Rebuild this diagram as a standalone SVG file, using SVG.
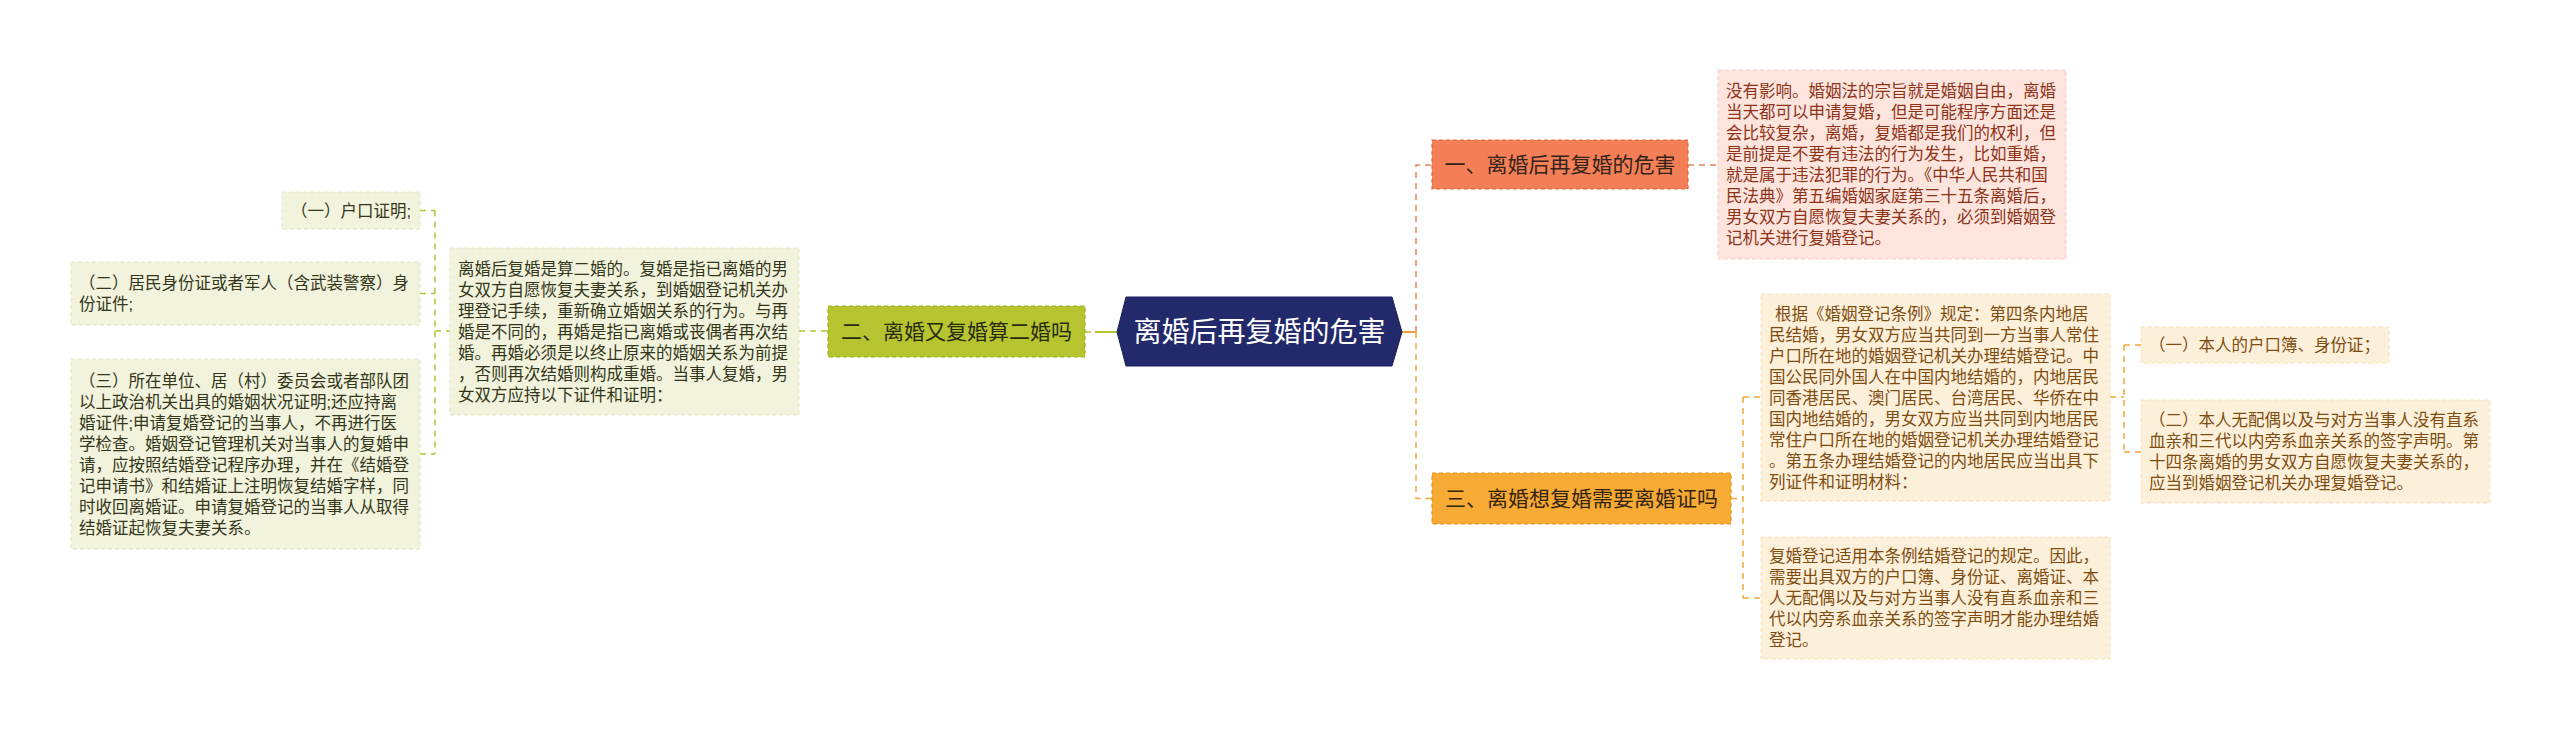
<svg xmlns="http://www.w3.org/2000/svg" width="2560" height="733" viewBox="0 0 2560 733">
<style>
text{font-family:"Liberation Sans","Noto Sans CJK SC",sans-serif;dominant-baseline:central}
.t{font-size:16.5px}
.lt{fill:#33361a}
.rt{fill:#7e4c10}
.pt{fill:#8e3218}
.b{font-size:21px;text-anchor:middle}
.boxL{fill:#f1f3dc;stroke:#e2e6bf;stroke-width:1;stroke-dasharray:4 3}
.boxR{fill:#fdf0da;stroke:#f5e0b8;stroke-width:1;stroke-dasharray:4 3}
.boxP{fill:#fde5de;stroke:#f7cfc2;stroke-width:1;stroke-dasharray:4 3}
.cl{fill:none;stroke:#b5c434;stroke-width:1.5;stroke-dasharray:6 5}
.co{fill:none;stroke:#e8805c;stroke-width:1.5;stroke-dasharray:6 5}
.cy{fill:none;stroke:#f0a83a;stroke-width:1.5;stroke-dasharray:6 5}
</style>
<g id="connectors">
<path class="cl" d="M420,210.5H435M420,293.5H435M420,454H435M435,210.5V454M435,331H450"/>
<path class="cl" d="M799,331H828"/>
<path class="cl" d="M1085,332H1095"/>
<path d="M1095,332H1117" stroke="#b5c434" stroke-width="2" fill="none"/>
<path d="M1402,332H1416" stroke="#f0a040" stroke-width="2" fill="none"/>
<path class="co" d="M1416,332V165H1432M1688,165H1718"/>
<path class="cy" d="M1416,332V498.5H1432M1731,498.5H1743M1743,397V598M1743,397H1761M1743,598H1761"/>
<path class="cy" d="M2110,397H2124M2124,345V452M2124,345H2141M2124,452H2141"/>
</g>
<g id="center">
<polygon points="1117,332 1126,297 1392,297 1402,332 1392,366 1126,366" fill="#232a6c" stroke="#1a2058" stroke-width="1"/>
<text x="1259.5" y="332" font-size="28" fill="#ffffff" text-anchor="middle">离婚后再复婚的危害</text>
</g>
<g id="branch1">
<rect x="1432" y="140" width="256" height="49" fill="#f47e56" stroke="#e2643c" stroke-width="1.2" stroke-dasharray="4 3"/>
<text class="b" x="1560" y="164.5" fill="#33241c">一、离婚后再复婚的危害</text>
</g>
<g id="branch2">
<rect x="828" y="306" width="257" height="51" fill="#b6c42f" stroke="#9eae1e" stroke-width="1.2" stroke-dasharray="4 3"/>
<text class="b" x="956.5" y="331.5" fill="#282a10">二、离婚又复婚算二婚吗</text>
</g>
<g id="branch3">
<rect x="1432" y="473" width="299" height="51" fill="#f7aa34" stroke="#e6921a" stroke-width="1.2" stroke-dasharray="4 3"/>
<text class="b" x="1581.5" y="498.5" fill="#33240f">三、离婚想复婚需要离婚证吗</text>
</g>
<g id="b1-detail">
<rect class="boxP" x="1718" y="70" width="348" height="189"/>
<text class="t pt" x="1726" y="91">没有影响。婚姻法的宗旨就是婚姻自由，离婚</text>
<text class="t pt" x="1726" y="112">当天都可以申请复婚，但是可能程序方面还是</text>
<text class="t pt" x="1726" y="133">会比较复杂，离婚，复婚都是我们的权利，但</text>
<text class="t pt" x="1726" y="154">是前提是不要有违法的行为发生，比如重婚，</text>
<text class="t pt" x="1726" y="175">就是属于违法犯罪的行为。《中华人民共和国</text>
<text class="t pt" x="1726" y="196">民法典》第五编婚姻家庭第三十五条离婚后，</text>
<text class="t pt" x="1726" y="217">男女双方自愿恢复夫妻关系的，必须到婚姻登</text>
<text class="t pt" x="1726" y="238">记机关进行复婚登记。</text>
</g>
<g id="b2-detail">
<rect class="boxL" x="450" y="248" width="349" height="167"/>
<text class="t lt" x="458" y="268.5">离婚后复婚是算二婚的。复婚是指已离婚的男</text>
<text class="t lt" x="458" y="289.5">女双方自愿恢复夫妻关系，到婚姻登记机关办</text>
<text class="t lt" x="458" y="310.5">理登记手续，重新确立婚姻关系的行为。与再</text>
<text class="t lt" x="458" y="331.5">婚是不同的，再婚是指已离婚或丧偶者再次结</text>
<text class="t lt" x="458" y="352.5">婚。再婚必须是以终止原来的婚姻关系为前提</text>
<text class="t lt" x="458" y="373.5">，否则再次结婚则构成重婚。当事人复婚，男</text>
<text class="t lt" x="458" y="394.5">女双方应持以下证件和证明：</text>
</g>
<g id="l1">
<rect class="boxL" x="282" y="192" width="138" height="37"/>
<text class="t lt" x="351" y="210.5" text-anchor="middle">（一）户口证明;</text>
</g>
<g id="l2">
<rect class="boxL" x="71" y="262" width="349" height="63"/>
<text class="t lt" x="79" y="283">（二）居民身份证或者军人（含武装警察）身</text>
<text class="t lt" x="79" y="304">份证件;</text>
</g>
<g id="l3">
<rect class="boxL" x="71" y="359" width="349" height="190"/>
<text class="t lt" x="79" y="381">（三）所在单位、居（村）委员会或者部队团</text>
<text class="t lt" x="79" y="402">以上政治机关出具的婚姻状况证明;还应持离</text>
<text class="t lt" x="79" y="423">婚证件;申请复婚登记的当事人，不再进行医</text>
<text class="t lt" x="79" y="444">学检查。婚姻登记管理机关对当事人的复婚申</text>
<text class="t lt" x="79" y="465">请，应按照结婚登记程序办理，并在《结婚登</text>
<text class="t lt" x="79" y="486">记申请书》和结婚证上注明恢复结婚字样，同</text>
<text class="t lt" x="79" y="507">时收回离婚证。申请复婚登记的当事人从取得</text>
<text class="t lt" x="79" y="528">结婚证起恢复夫妻关系。</text>
</g>
<g id="b3-detail1">
<rect class="boxR" x="1761" y="294" width="349" height="207"/>
<text class="t rt" x="1775" y="313.5">根据《婚姻登记条例》规定：第四条内地居</text>
<text class="t rt" x="1769" y="334.5">民结婚，男女双方应当共同到一方当事人常住</text>
<text class="t rt" x="1769" y="355.5">户口所在地的婚姻登记机关办理结婚登记。中</text>
<text class="t rt" x="1769" y="376.5">国公民同外国人在中国内地结婚的，内地居民</text>
<text class="t rt" x="1769" y="397.5">同香港居民、澳门居民、台湾居民、华侨在中</text>
<text class="t rt" x="1769" y="418.5">国内地结婚的，男女双方应当共同到内地居民</text>
<text class="t rt" x="1769" y="439.5">常住户口所在地的婚姻登记机关办理结婚登记</text>
<text class="t rt" x="1769" y="460.5">。第五条办理结婚登记的内地居民应当出具下</text>
<text class="t rt" x="1769" y="481.5">列证件和证明材料：</text>
</g>
<g id="b3-detail2">
<rect class="boxR" x="1761" y="537" width="349" height="122"/>
<text class="t rt" x="1769" y="556">复婚登记适用本条例结婚登记的规定。因此，</text>
<text class="t rt" x="1769" y="577">需要出具双方的户口簿、身份证、离婚证、本</text>
<text class="t rt" x="1769" y="598">人无配偶以及与对方当事人没有直系血亲和三</text>
<text class="t rt" x="1769" y="619">代以内旁系血亲关系的签字声明才能办理结婚</text>
<text class="t rt" x="1769" y="640">登记。</text>
</g>
<g id="r1">
<rect class="boxR" x="2141" y="327" width="248" height="36"/>
<text class="t rt" x="2149" y="345">（一）本人的户口簿、身份证；</text>
</g>
<g id="r2">
<rect class="boxR" x="2141" y="400" width="349" height="103"/>
<text class="t rt" x="2149" y="420">（二）本人无配偶以及与对方当事人没有直系</text>
<text class="t rt" x="2149" y="441">血亲和三代以内旁系血亲关系的签字声明。第</text>
<text class="t rt" x="2149" y="462">十四条离婚的男女双方自愿恢复夫妻关系的，</text>
<text class="t rt" x="2149" y="483">应当到婚姻登记机关办理复婚登记。</text>
</g>
</svg>
